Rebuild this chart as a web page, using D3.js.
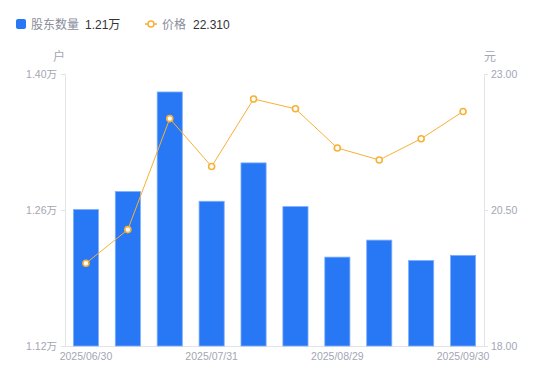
<!DOCTYPE html>
<html>
<head>
<meta charset="utf-8">
<script src="https://cdn.jsdelivr.net/npm/d3@7/dist/d3.min.js"></script>
<style>
  body { margin: 0; background: #fff; }
  text { font-family: "Liberation Sans", "Noto Sans CJK SC", sans-serif; }
</style>
</head>
<body>
<div id="chart"></div>
<script>
// dates of each report, only every third one is labelled
var dates = ["2025/06/30", "2025/07/10", "2025/07/20", "2025/07/31", "2025/08/10",
             "2025/08/20", "2025/08/29", "2025/09/10", "2025/09/19", "2025/09/30"];
// shareholders, unit 万户
var holders = [1.2605, 1.2790, 1.3815, 1.2690, 1.3085, 1.2635, 1.2115, 1.2290, 1.2080, 1.2133];
// price, unit 元
var prices = [19.52, 20.14, 22.18, 21.30, 22.54, 22.36, 21.64, 21.42, 21.81, 22.31];
var leftTicks = [1.12, 1.26, 1.40];
var rightTicks = [18.00, 20.50, 23.00];

var width = 550, height = 381;
var m = {top: 74, left: 65, right: 66, bottom: 35};
var blue = "#2878f6", orange = "#f7b135", gray = "#a3a6b4";
var fontStack = "'Liberation Sans', 'Noto Sans CJK SC', sans-serif";

var svg = d3.select("#chart").append("svg")
    .attr("width", width)
    .attr("height", height);

var x = d3.scaleBand()
    .domain(dates)
    .range([m.left, width - m.right])
    .paddingInner(0.4)
    .paddingOuter(0.2);

var yL = d3.scaleLinear().domain([1.12, 1.40]).range([height - m.bottom, m.top]);
var yR = d3.scaleLinear().domain([18, 23]).range([height - m.bottom, m.top]);

// axes
var leftAxis = svg.append("g")
    .attr("transform", "translate(" + m.left + ",0)")
    .call(d3.axisLeft(yL).tickValues(leftTicks).tickSize(4).tickPadding(4)
      .tickFormat(function(d) { return d.toFixed(2) + "万"; }));
var rightAxis = svg.append("g")
    .attr("transform", "translate(" + (width - m.right) + ",0)")
    .call(d3.axisRight(yR).tickValues(rightTicks).tickSize(4).tickPadding(3)
      .tickFormat(function(d) { return d.toFixed(2); }));
[leftAxis, rightAxis].forEach(function(g) {
  g.select(".domain").attr("stroke", "#e3e4e8");
  g.selectAll(".tick line").attr("stroke", "#e3e4e8");
  g.selectAll(".tick text").attr("fill", gray).style("font-size", "10.5px")
    .style("font-family", fontStack);
});

var bottomAxis = svg.append("g")
    .attr("transform", "translate(0," + (height - m.bottom) + ")")
    .call(d3.axisBottom(x).tickSize(0).tickPadding(7)
      .tickFormat(function(d, i) { return i % 3 == 0 ? d : ""; }));
bottomAxis.select(".domain").attr("stroke", "#e3e4e8")
  .attr("d", "M" + (m.left - 4) + ",0.5H" + (width - m.right + 4));
bottomAxis.selectAll(".tick text").attr("fill", gray).style("font-size", "10.5px")
  .style("font-family", fontStack);

// unit labels
svg.append("text").attr("x", 59).attr("y", 61).attr("text-anchor", "middle")
  .attr("fill", gray).style("font-size", "12px").text("户");
svg.append("text").attr("x", 490).attr("y", 61).attr("text-anchor", "middle")
  .attr("fill", gray).style("font-size", "12px").text("元");

// bars
svg.append("g").selectAll("rect")
    .data(holders)
    .enter().append("rect")
    .attr("x", function(d, i) { return x(dates[i]); })
    .attr("y", function(d) { return yL(d); })
    .attr("width", x.bandwidth())
    .attr("height", function(d) { return yL(1.12) - yL(d); })
    .attr("fill", blue)
    .attr("stroke", "#7fb0fa")
    .attr("stroke-width", 0.8);

// price line
var line = d3.line()
    .x(function(d, i) { return x(dates[i]) + x.bandwidth() / 2; })
    .y(function(d) { return yR(d); });
svg.append("path")
    .datum(prices)
    .attr("d", line)
    .attr("fill", "none")
    .attr("stroke", orange)
    .attr("stroke-width", 1);
svg.append("g").selectAll("circle")
    .data(prices)
    .enter().append("circle")
    .attr("cx", function(d, i) { return x(dates[i]) + x.bandwidth() / 2; })
    .attr("cy", function(d) { return yR(d); })
    .attr("r", 3)
    .attr("fill", "#fff")
    .attr("stroke", orange)
    .attr("stroke-width", 1.6);

// legend
var lg = svg.append("g").style("font-size", "12px");
lg.append("rect").attr("x", 16).attr("y", 19).attr("width", 10).attr("height", 10)
  .attr("rx", 2).attr("fill", blue);
lg.append("text").attr("x", 31).attr("y", 29).attr("fill", "#8a8d99").text("股东数量");
lg.append("text").attr("x", 85).attr("y", 29).attr("fill", "#333")
  .text(holders[holders.length - 1].toFixed(2) + "万");
lg.append("line").attr("x1", 145).attr("x2", 157).attr("y1", 24).attr("y2", 24)
  .attr("stroke", orange).attr("stroke-width", 1.5);
lg.append("circle").attr("cx", 151).attr("cy", 24).attr("r", 3)
  .attr("fill", "#fff").attr("stroke", orange).attr("stroke-width", 1.6);
lg.append("text").attr("x", 162).attr("y", 29).attr("fill", "#8a8d99").text("价格");
lg.append("text").attr("x", 193).attr("y", 29).attr("fill", "#333")
  .text(prices[prices.length - 1].toFixed(3));
</script>
</body>
</html>
